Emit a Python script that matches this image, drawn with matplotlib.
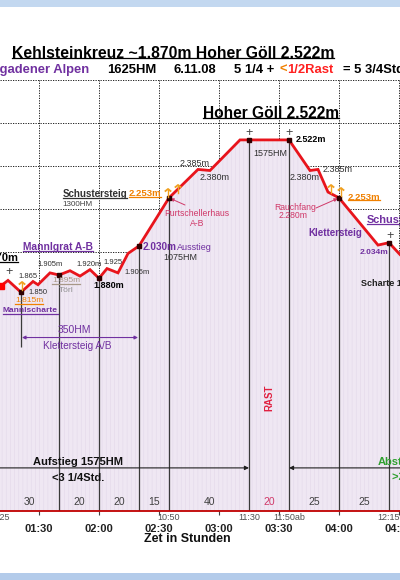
import numpy as np
import matplotlib
matplotlib.use('Agg')
import matplotlib.pyplot as plt
from matplotlib.transforms import Affine2D, blended_transform_factory
from matplotlib.patches import Rectangle
from matplotlib.lines import Line2D
from matplotlib.ticker import FuncFormatter, MultipleLocator

plt.rcParams['font.family'] = ['Liberation Sans', 'DejaVu Sans']
plt.rcParams['hatch.linewidth'] = 0.4

# profile: time in minutes (01:30 -> 90), elevation in m
prof_t = [69, 71, 74.5, 81, 87, 89.5, 95.5, 100, 105.5, 110.5, 115.5, 120, 124, 129.5,
          134.5, 140, 155, 169.5, 175.5, 190.5, 195, 215, 225.5, 229.5, 234.5, 240,
          259.5, 265, 270.5, 276]
prof_h = [1840, 1845, 1870, 1815, 1865, 1850, 1905, 1895, 1915, 1890, 1920, 1880, 1925, 1905,
          1995, 2030, 2253, 2385, 2380, 2522, 2522, 2522, 2380, 2385, 2280, 2253,
          2034, 2045, 1990, 1940]

# stops with drop lines
stop_t = [81, 100, 120, 140, 155, 195, 215, 240, 265]
# segments and their durations (min)
seg_edges = [70, 100, 120, 140, 155, 195, 215, 240, 265]
seg_min = [30, 20, 20, 15, 40, 20, 25, 25]
# clock times written under the axis
clock_t = [70, 155, 195, 215, 265]
clock_txt = ['09:25', '10:50', '11:30', '11:50ab', '12:15']

KS_LEVEL = 1605   # Klettersteig A/B bar
AUF_LEVEL = 1000  # Aufstieg / Abstieg arrows

PURPLE = '#7030A0'
ORANGE = '#F08000'
PINK = '#D03868'
RED = '#E8141C'

fig = plt.figure(figsize=(4, 5.8), dpi=100)
fig.patch.set_facecolor('white')
PX = Affine2D().scale(1 / 400, -1 / 580).translate(0, 1) + fig.transFigure

# blue bands of the screenshot
fig.add_artist(Rectangle((0, 0), 400, 7, transform=PX, color='#C3D8F0', lw=0))
fig.add_artist(Rectangle((0, 573), 400, 7, transform=PX, color='#B3CBEA', lw=0))

ax = fig.add_axes([0, 69 / 580, 1, 431 / 580])
ax.set_xlim(70.5, 270.5)
ax.set_ylim(800, 2800)
ax.set_facecolor('none')
ax.set_axisbelow(True)

ax.xaxis.set_major_locator(MultipleLocator(30))
ax.xaxis.set_major_formatter(FuncFormatter(lambda v, p: '%02d:%02d' % (v // 60, v % 60)))
ax.yaxis.set_major_locator(MultipleLocator(200))
ax.set_yticklabels([])
ax.tick_params(axis='y', length=0)
ax.tick_params(axis='x', length=3, width=0.8, color='#404040', pad=6, labelsize=8,
               labelcolor='#202020')
for lab in ax.get_xticklabels():
    lab.set_fontweight('bold')
ax.grid(True, color='black', lw=0.6, linestyle=(0, (1.5, 1.5)))
for s in ['top', 'left', 'right']:
    ax.spines[s].set_visible(False)
ax.spines['bottom'].set_color('#C00000')
ax.spines['bottom'].set_linewidth(1.3)
ax.spines['bottom'].set_zorder(6)

# area under the profile
ax.fill_between(prof_t, prof_h, 800, facecolor='#EFE7F3', edgecolor='#E3D8EA',
                hatch='||||', lw=0, zorder=1)

# drop lines
tops = np.interp(stop_t, prof_t, prof_h)
bottoms = [1560] + [800] * (len(stop_t) - 1)
ax.vlines(stop_t, bottoms, tops, color='#3A3A3A', lw=0.9, zorder=2)

ax.plot(prof_t, prof_h, color=RED, lw=2, zorder=4, solid_joinstyle='miter')
ax.plot(stop_t, tops, 's', ms=2.5, color='#300000', zorder=5)
ax.plot(prof_t[1], prof_h[1], 's', ms=5, color='red', zorder=5)

# arrows
ax.annotate('', xy=(195, AUF_LEVEL), xytext=(70.5, AUF_LEVEL),
            arrowprops=dict(arrowstyle='-|>', color='#202020', lw=0.8,
                            mutation_scale=6, shrinkA=0, shrinkB=0))
ax.annotate('', xy=(215, AUF_LEVEL), xytext=(270.5, AUF_LEVEL),
            arrowprops=dict(arrowstyle='-|>', color='#202020', lw=0.8,
                            mutation_scale=6, shrinkA=0, shrinkB=0))
ax.annotate('', xy=(81.5, KS_LEVEL), xytext=(139.5, KS_LEVEL),
            arrowprops=dict(arrowstyle='<|-|>', color=PURPLE, lw=0.8,
                            mutation_scale=5, shrinkA=0, shrinkB=0))
ax.annotate('', xy=(155, 2253), xytext=(185, 205), textcoords=PX,
            arrowprops=dict(arrowstyle='-|>', color=PINK, lw=0.7,
                            mutation_scale=5, shrinkA=0, shrinkB=1))
ax.annotate('', xy=(240, 2253), xytext=(316, 208), textcoords=PX,
            arrowprops=dict(arrowstyle='-|>', color=PINK, lw=0.7,
                            mutation_scale=5, shrinkA=0, shrinkB=1))

# durations and clock times below
XB = blended_transform_factory(ax.transData, PX)
for (a, b), m in zip(zip(seg_edges[:-1], seg_edges[1:]), seg_min):
    ax.text((a + b) / 2, 502, str(m), transform=XB, ha='center', va='center',
            fontsize=7.5, color=PINK if m == 20 and a == 195 else '#404040')
for t, s in zip(clock_t, clock_txt):
    ax.text(t, 518, s, transform=XB, ha='center', va='center', fontsize=6.5,
            color='#505050')
ax.text(205, 398, 'RAST', transform=XB, rotation=90, ha='center', va='center',
        fontsize=7, fontweight='bold', color='#E02040')

underlined = []


def T(x, y, s, size=6.5, color='#303030', weight='normal', ha='center', ul=False, **kw):
    t = fig.text(x, y, s, transform=PX, fontsize=size, color=color, fontweight=weight,
                 ha=ha, va='center', **kw)
    if ul:
        underlined.append(t)
    return t


# header
T(173, 53, 'Kehlsteinkreuz ~1.870m Hoher Göll 2.522m', 11.3, 'black', 'bold', ul=True)
T(89, 70, 'Berchtesgadener Alpen', 9.4, PURPLE, 'bold', ha='right')
T(132, 70, '1625HM', 9.4, 'black', 'bold')
T(174, 70, '6.11.08', 9.4, 'black', 'bold', ha='left')
T(234, 70, '5 1/4 +', 9.4, 'black', 'bold', ha='left')
T(280, 70, '<', 9.4, ORANGE, 'bold', ha='left')
T(287, 70, '1/2Rast', 9.4, '#FF2020', 'bold', ha='left')
T(343, 70, '= 5 3/4Std.', 9.4, 'black', 'bold', ha='left')

# summit
T(271, 113, 'Hoher Göll 2.522m', 11.2, 'black', 'bold', ul=True)
for cx in (249, 289):
    T(cx, 133, '+', 9, '#404040')
T(270, 153, '1575HM', 6.5)
T(311, 140, '2.522m', 6.5, 'black', 'bold')

# left part
T(18, 258, '1.870m', 8, 'black', 'bold', ha='right', ul=True)
T(9, 272, '+', 9, '#404040')
T(28, 277, '1.865', 5.5)
T(38, 292, '1.850', 5.5)
T(29, 301, '1.815m', 6, ORANGE, ul=True)
T(30, 311, 'Mannlscharte', 6, PURPLE, 'bold', ul=True)
T(58, 247, 'Mannlgrat A-B', 7.4, PURPLE, 'bold', ul=True)
T(50, 265, '1.905m', 5.5)
T(66, 281, '1.895m', 6, '#A89888', ul=True)
T(66, 291, 'Törl', 6, '#909090')
T(89, 265, '1.920m', 5.5)
T(109, 286, '1.880m', 6.5, 'black', 'bold')
T(113, 263, '1.925', 5.5)
T(137, 273, '1.905m', 5.5)
T(160, 247, '2.030m', 7.2, PURPLE, 'bold')
T(194, 247, 'Ausstieg', 6.5, PURPLE)
T(180, 257, '1075HM', 6.5)
T(74, 330, '350HM', 7.5, PURPLE)
T(77, 346, 'Klettersteig A/B', 7.2, PURPLE)

# Schustersteig ascent
T(95, 194, 'Schustersteig', 7, '#303030', 'bold', ul=True)
T(145, 194, '2.253m', 6.8, ORANGE, 'bold', ul=True)
T(77, 205, '1300HM', 5.8, '#404040')
T(197, 213, 'Purtschellerhaus', 6.2, PINK)
T(197, 223, 'A-B', 6.2, PINK)
T(195, 163, '2.385m', 6.5)
T(215, 177, '2.380m', 6.5)

# descent
T(305, 177, '2.380m', 6.5)
T(338, 170, '2.385m', 6.5)
T(364, 197, '2.253m', 6.8, ORANGE, 'bold', ul=True)
T(295, 207, 'Rauchfang', 6.2, PINK)
T(293, 215, '2.280m', 6.2, PINK)
T(335, 233, 'Klettersteig', 7, PURPLE, 'bold')
T(367, 220, 'Schustersteig', 7.9, PURPLE, 'bold', ha='left', ul=True)
T(390, 236, '+', 9, '#404040')
T(374, 252, '2.034m', 6, PURPLE, 'bold')
T(361, 283, 'Scharte 1.9xxm', 6.5, '#202020', 'bold', ha='left')

# bottom
T(78, 462, 'Aufstieg 1575HM', 8, '#101010', 'bold')
T(78, 478, '<3 1/4Std.', 8, '#101010', 'bold')
T(378, 462, 'Abstieg', 8, '#30A030', 'bold', ha='left')
T(392, 477, '>2 1/2Std.', 8, '#30A030', 'bold', ha='left')
T(187, 539, 'Zet in Stunden', 9, '#101010', 'bold')

# signposts
for sx, sy in [(22, 282), (168, 189), (178, 185), (331, 185), (341, 188)]:
    fig.add_artist(Line2D([sx, sx], [sy, sy + 8], transform=PX, color='#F0A020', lw=1))
    fig.add_artist(Line2D([sx - 2.5, sx, sx + 2.5], [sy + 2, sy, sy + 2], transform=PX,
                          color='#F0A020', lw=1.3))

# underlines
fig.canvas.draw()
inv = fig.transFigure.inverted()
for t in underlined:
    bb = t.get_window_extent()
    y = bb.y0 + bb.height * 0.14
    (x0, y0), (x1, _) = inv.transform([(bb.x0, y), (bb.x1, y)])
    fig.add_artist(Line2D([x0, x1], [y0, y0], transform=fig.transFigure,
                          color=t.get_color(), lw=0.9))

fig.savefig('out.png', dpi=100)
